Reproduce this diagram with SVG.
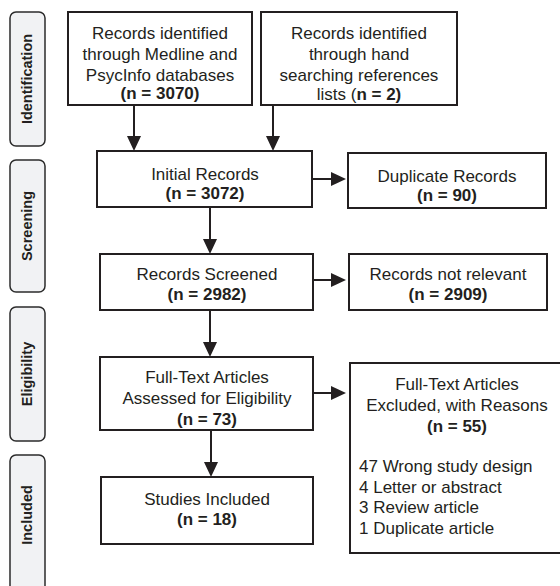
<svg xmlns="http://www.w3.org/2000/svg" width="560" height="586" viewBox="0 0 560 586">
<style>
.stage{fill:#f1f2f4;stroke:#2b2b2b;stroke-width:1.5}
.stxt{font-family:"Liberation Sans",Arial,sans-serif;font-size:14.5px;font-weight:bold;fill:#231f20;text-anchor:middle}
.box{fill:#ffffff;stroke:#231f20;stroke-width:2}
.t{font-family:"Liberation Sans",Arial,sans-serif;font-size:17px;fill:#231f20;text-anchor:middle}
.l{font-family:"Liberation Sans",Arial,sans-serif;font-size:17px;fill:#231f20}
.b{font-weight:bold}
.conn{stroke:#231f20;stroke-width:2;fill:none}
</style>
<defs>
<marker id="ah" markerUnits="userSpaceOnUse" markerWidth="15" markerHeight="14" refX="0" refY="7" orient="auto">
<path d="M0,0 L15,7 L0,14 z" fill="#231f20"/>
</marker>
</defs>
<rect width="560" height="586" fill="#ffffff"/>

<g id="stage-identification">
<rect class="stage" x="10" y="12" width="35" height="134" rx="6"/>
<text class="stxt" transform="translate(32,79) rotate(-90)">Identification</text>
</g>
<g id="stage-screening">
<rect class="stage" x="10" y="160" width="35" height="132" rx="6"/>
<text class="stxt" transform="translate(32,226) rotate(-90)">Screening</text>
</g>
<g id="stage-eligibility">
<rect class="stage" x="10" y="307" width="35" height="134" rx="6"/>
<text class="stxt" transform="translate(32,374) rotate(-90)">Eligibility</text>
</g>
<g id="stage-included">
<rect class="stage" x="10" y="455" width="35" height="145" rx="6"/>
<text class="stxt" transform="translate(32,515) rotate(-90)">Included</text>
</g>

<g id="n-medline">
<rect class="box" x="68" y="12" width="184" height="93"/>
<text class="t" x="160" y="39">Records identified</text>
<text class="t" x="160" y="60">through Medline and</text>
<text class="t" x="160" y="81">PsycInfo databases</text>
<text class="t b" x="160" y="99">(n = 3070)</text>
</g>
<g id="n-hand">
<rect class="box" x="261" y="12" width="196" height="93"/>
<text class="t" x="359" y="39">Records identified</text>
<text class="t" x="359" y="60">through hand</text>
<text class="t" x="359" y="81">searching references</text>
<text class="t" x="359" y="100">lists (<tspan class="b">n = 2)</tspan></text>
</g>
<g id="n-initial">
<rect class="box" x="97" y="151" width="215" height="56"/>
<text class="t" x="205" y="180">Initial Records</text>
<text class="t b" x="205" y="199">(n = 3072)</text>
</g>
<g id="n-duplicate">
<rect class="box" x="348" y="153" width="198" height="55"/>
<text class="t" x="447" y="182">Duplicate Records</text>
<text class="t b" x="447" y="201">(n = 90)</text>
</g>
<g id="n-screened">
<rect class="box" x="100" y="254" width="213" height="56"/>
<text class="t" x="207" y="280">Records Screened</text>
<text class="t b" x="207" y="300">(n = 2982)</text>
</g>
<g id="n-notrelevant">
<rect class="box" x="349" y="254" width="198" height="56"/>
<text class="t" x="448" y="280">Records not relevant</text>
<text class="t b" x="448" y="300">(n = 2909)</text>
</g>
<g id="n-fulltext">
<rect class="box" x="100" y="357" width="213" height="73"/>
<text class="t" x="207" y="383">Full-Text Articles</text>
<text class="t" x="207" y="404">Assessed for Eligibility</text>
<text class="t b" x="207" y="425">(n = 73)</text>
</g>
<g id="n-excluded">
<rect class="box" x="350" y="363" width="216" height="190"/>
<text class="t" x="457" y="390">Full-Text Articles</text>
<text class="t" x="457" y="411">Excluded, with Reasons</text>
<text class="t b" x="457" y="432">(n = 55)</text>
<text class="l" x="359" y="472">47 Wrong study design</text>
<text class="l" x="359" y="493">4 Letter or abstract</text>
<text class="l" x="359" y="513">3 Review article</text>
<text class="l" x="359" y="534">1 Duplicate article</text>
</g>
<g id="n-included">
<rect class="box" x="101" y="477" width="212" height="67"/>
<text class="t" x="207" y="505">Studies Included</text>
<text class="t b" x="207" y="525">(n = 18)</text>
</g>

<g id="connectors">
<line class="conn" x1="134" y1="105" x2="134" y2="136" marker-end="url(#ah)"/>
<line class="conn" x1="273" y1="105" x2="273" y2="136" marker-end="url(#ah)"/>
<line class="conn" x1="210" y1="207" x2="210" y2="239" marker-end="url(#ah)"/>
<line class="conn" x1="210" y1="310" x2="210" y2="342" marker-end="url(#ah)"/>
<line class="conn" x1="211" y1="430" x2="211" y2="462" marker-end="url(#ah)"/>
<line class="conn" x1="312" y1="179" x2="331" y2="179" marker-end="url(#ah)"/>
<line class="conn" x1="313" y1="280" x2="331" y2="280" marker-end="url(#ah)"/>
<line class="conn" x1="313" y1="393" x2="331" y2="393" marker-end="url(#ah)"/>
</g>
</svg>
